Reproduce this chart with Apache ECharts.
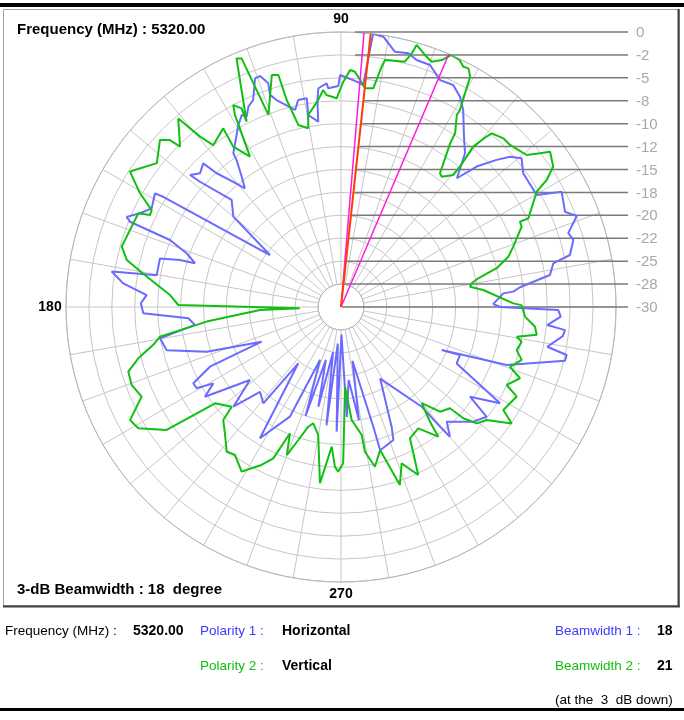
<!DOCTYPE html>
<html><head><meta charset="utf-8">
<script src="https://cdn.jsdelivr.net/npm/echarts/dist/echarts.min.js"></script>
<style>html,body{margin:0;padding:0;background:#fff}#c{width:684px;height:720px}</style>
</head><body><div id="c"></div>
<script>
// ---------- data ----------
const frequencyMHz = '5320.00';
const beamwidth1 = '18';
const beamwidth2 = '21';
const ringValues = [0, -2.5, -5, -7.5, -10, -12.5, -15, -17.5, -20, -22.5, -25, -27.5, -30];
const ringLabels = ['0', '-2', '-5', '-8', '-10', '-12', '-15', '-18', '-20', '-22', '-25', '-28', '-30'];
const angleLabels = ['90', '180', '270'];

// [dB, angle deg]
const horizontal = [
 [-12.65,0.1],[-13.4,1.1],[-12.23,4.8],[-11.13,5.1],[-10.35,6.3],[-6.94,8.7],[-6.36,11.6],[-4.39,12.8],
 [-3.62,16.1],[-3.93,18],[-2.43,21.1],[-3.45,23],[-2.84,27.6],[-5.4,29.8],[-5.34,36.3],[-4.47,39.5],
 [-5.32,41.6],[-6.64,43.4],[-8.7,46],[-11.1,48],[-8.45,51.1],[-7.22,53.9],[-4.7,58.2],[-3.64,60.5],
 [-2.86,63.2],[-2.99,66.4],[-1.87,69.8],[-1.82,73],[-1.36,75.1],[-1.53,78.1],[-0.15,81.1],[0,83.3],
 [-5.66,84.3],[-5.36,86],[-4.69,90.2],[-5.89,90.7],[-6.1,93.3],[-5.56,93.7],[-6.01,95.9],[-7.27,96.5],
 [-9.63,97],[-8.75,99.7],[-6.93,99.3],[-6.94,101.7],[-7.93,103.1],[-6.35,107.3],[-5.6,108.5],[-4.34,108],
 [-3.3,109.3],[-3.35,110.6],[-5.47,113],[-5.92,114.8],[-6.83,116.4],[-6.42,117.3],[-7.2,119.4],[-9.52,125],
 [-10.34,125.4],[-12.13,127.3],[-13.34,129],[-11.98,130.7],[-10.08,132.9],[-8.29,133.8],[-8.8,136.5],[-8.12,138.8],
 [-9.42,138.4],[-13.3,135.6],[-14.67,140],[-20.4,143.8],[-7.18,148.2],[-6.22,148.6],[-6.71,152.5],[-5.8,155],
 [-4.63,157.2],[-5.17,158],[-9.96,158.6],[-12.17,160.8],[-13.37,163.3],[-11.7,163.7],[-9.55,165],[-9.6,170.2],
 [-4.69,171.2],[-6.1,173.8],[-8.76,176.5],[-8.16,178.9],[-8.42,181.8],[-13.3,184.2],[-13.95,187],[-9.96,189.8],
 [-10.41,193.9],[-14.56,198.4],[-20.55,203.6],[-14.29,204.5],[-11.87,207.3],[-11.93,209.4],[-13.77,210.9],[-12.22,213.4],
 [-17.27,218.7],[-13.99,222.8],[-17.21,226.3],[-16.5,231.1],[-22.29,232.8],[-13.17,238.3],[-16.8,245],[-23.8,248.4],
 [-17.5,252],[-24,254],[-18.85,257.2],[-25,260],[-17,263],[-26,265],[-16.4,268],[-27,271],
 [-18,273],[-22,276],[-17.5,279],[-24,282],[-16.5,285.1],[-13.8,285.3],[-14.4,291.5],[-15.8,292.9],
 [-21.1,298.7],[-16,309],[-13.06,309.6],[-11.52,310],[-12.98,312.7],[-10.9,319.1],[-10.1,323],[-12.86,325.2],
 [-9.72,328.8],[-15.96,334],[-16,338],[-18.05,336.9],[-10.85,340.7],[-4.87,346.5],[-4.83,348],[-7.08,349.1],
 [-5.6,352.5],[-5.43,354.1],[-7.41,355],[-6.01,357.5],[-6.29,359.2],[-12.65,360]
];
const vertical = [
 [-10.29,0.6],[-11.2,1.2],[-14.37,6.8],[-15.75,8.9],[-15.51,10.3],[-14.7,11.8],[-12.5,14],[-10.94,16.7],
 [-10.09,19.3],[-8.43,24],[-8.37,25.5],[-7.4,25.3],[-5.22,30.5],[-3.63,31.7],[-2.24,33.5],[-1.59,36.6],
 [-2.57,37.7],[-3.82,39.3],[-4.46,43.8],[-4.46,46.1],[-4.91,49],[-5.55,49.5],[-7.33,50.5],[-9.93,49.7],
 [-11.09,49.6],[-12.03,52.3],[-11.85,53.5],[-8.54,56.3],[-7.33,56.7],[-5.54,58.9],[-4.89,58.9],[-1.92,60.4],
 [-1.2,60.7],[-0.49,61.9],[-0.59,63],[-0.1,64.4],[0,66.4],[-0.9,67.8],[-1.47,69.7],[-1.02,71.6],
 [-0.25,73.9],[-1.27,74.4],[-2.35,75.4],[-2.63,79.9],[-3.41,80.4],[-5.88,81.6],[-6,83.7],[-4.29,86.6],
 [-4.12,87.8],[-5.42,89.4],[-6.33,90.3],[-7.23,91.2],[-6.82,93.9],[-6.25,94.7],[-7.29,96.3],[-8.75,99.7],
 [-10.18,100.4],[-9.6,103.2],[-6.65,104.7],[-3.79,105.1],[-3.59,106.6],[-7.6,110.7],[-0.79,111.8],[-0.58,112.8],
 [-7.32,117],[-5.77,116.6],[-5.03,118.1],[-6.08,118.9],[-10.83,121.2],[-8.93,123.9],[-6.66,123.4],[-7.5,128.3],
 [-5.88,129.6],[-2.83,130.8],[-5.21,135.1],[-3.93,135.7],[-3.13,137.3],[-4.5,142],[-2.65,147.3],[-4.81,150.5],
 [-6.8,152.9],[-6.87,154.3],[-5.64,155.2],[-5.19,164.6],[-6.07,167.6],[-8.54,171.1],[-11.3,176],[-12.25,179.3],
 [-25.5,181.9],[-21.16,182.1],[-15.26,186.2],[-9.99,189.3],[-9.11,191.4],[-7.19,194.2],[-5.75,196.9],[-5.63,200.4],
 [-6.15,204.2],[-3.89,208.2],[-4.23,210.9],[-6.73,215.2],[-12.7,217.4],[-13.86,222.4],[-12.2,223.8],[-11.29,227.4],
 [-9.88,231.7],[-10.14,234.4],[-9.02,238.9],[-9.88,241],[-10.71,243.3],[-11.91,245.9],[-15.14,248],[-12.8,249.9],
 [-14.76,252.2],[-16.46,254.7],[-16.96,256.6],[-15.82,259.9],[-10.63,263.2],[-14.73,266.2],[-12.57,267.8],[-12.03,269],
 [-12.95,270.8],[-21.3,272.9],[-17.62,275.4],[-15.85,279.2],[-14,279.4],[-12.19,282],[-13.83,285.3],[-9.55,288.3],
 [-11.71,291.2],[-9.83,294.7],[-13.82,297.7],[-14.31,302.5],[-12.31,306.9],[-14.16,307.8],[-16.3,310],[-14.28,313.4],
 [-13.77,317.1],[-11.96,317.7],[-10.5,319.4],[-9.88,322.2],[-7.46,325.7],[-9.03,327.6],[-8.48,333],[-10.02,334.8],
 [-8.98,338.3],[-10.45,340.5],[-9.46,343.7],[-10.27,346.2],[-9.93,349.1],[-10.56,350.4],[-8.43,351.9],[-8.73,354.2],
 [-9.9,357],[-10.29,360.6]
];
const peakAngle = 83.8;
const peakLine = [[-30, peakAngle], [2.4, peakAngle]];
const beamEdgeA = [[-30, 85.2], [1.1, 85.2]];
const beamEdgeB = [[-30, 66.9], [1.1, 66.9]];

// ---------- layout ----------
const CX = 341, CY = 307, R = 275, R0 = R / 12;
const FONT = '"Liberation Sans", Arial, sans-serif';

const chart = echarts.init(document.getElementById('c'), null, {renderer: 'canvas'});
function lineSeries(data, color, width, z) {
  return {type: 'line', coordinateSystem: 'polar', polarIndex: 1, data: data, symbol: 'none',
    showSymbol: false, clip: false, animation: false, z: z,
    lineStyle: {color: color, width: width}};
}
chart.setOption({
  backgroundColor: '#ffffff',
  animation: false,
  polar: [{center: [CX, CY], radius: [R0, R]}, {center: [CX, CY], radius: [0, R]}],
  angleAxis: [
    {polarIndex: 0, type: 'value', min: 0, max: 360, interval: 10, startAngle: 0, clockwise: false,
     axisLine: {show: true, lineStyle: {color: '#b8b8b8', width: 1}}, axisTick: {show: false},
     axisLabel: {show: false}, splitLine: {show: true, lineStyle: {color: '#c6c6c6', width: 1}}},
    {polarIndex: 1, type: 'value', min: 0, max: 360, startAngle: 0, clockwise: false, show: false}
  ],
  radiusAxis: [
    {polarIndex: 0, type: 'value', min: -27.5, max: 0, interval: 2.5,
     axisLine: {show: false}, axisTick: {show: false}, axisLabel: {show: false},
     splitLine: {show: true, lineStyle: {color: '#c6c6c6', width: 1}}},
    {polarIndex: 1, type: 'value', min: -30, max: 0, show: false}
  ],
  series: [
    lineSeries(horizontal, '#6b6bff', 2, 3),
    lineSeries(vertical, '#10c010', 2, 4),
    lineSeries(beamEdgeA, '#ff1ad9', 1.5, 5),
    lineSeries(beamEdgeB, '#ff1ad9', 1.5, 5),
    lineSeries(peakLine, '#ff3c00', 2, 6)
  ]
});

// ---------- decorations ----------
function txt(text, x, y, opts) {
  opts = opts || {};
  return {type: 'text', z: 20, silent: true, style: {
    text: text, x: x, y: y, fill: opts.color || '#000',
    font: (opts.bold ? 'bold ' : '') + (opts.size || 12) + 'px ' + FONT,
    align: opts.align || 'left', verticalAlign: 'middle',
    textAlign: opts.align || 'left', textVerticalAlign: 'middle'}};
}
const g = [];
// frame
g.push({type: 'rect', z: 0, silent: true, shape: {x: 0, y: 3, width: 684, height: 4}, style: {fill: '#000'}});
g.push({type: 'rect', z: 0, silent: true, shape: {x: 3.5, y: 9.5, width: 676, height: 596}, style: {fill: 'none', stroke: '#a0a0a0', lineWidth: 1}});
g.push({type: 'line', z: 0, silent: true, shape: {x1: 678.5, y1: 9, x2: 678.5, y2: 607}, style: {stroke: '#404040', lineWidth: 2}});
g.push({type: 'line', z: 0, silent: true, shape: {x1: 3, y1: 606.5, x2: 680, y2: 606.5}, style: {stroke: '#404040', lineWidth: 2}});
g.push({type: 'rect', z: 0, silent: true, shape: {x: 0, y: 708, width: 684, height: 3}, style: {fill: '#000'}});

// ring labels and leaders (leaders start at the peak-direction line)
const tanPeak = Math.tan(peakAngle * Math.PI / 180);
ringValues.forEach(function (v, i) {
  let p = null;
  try { p = chart.convertToPixel({polarIndex: 1}, [v, 90]); } catch (e) { p = null; }
  const y = p ? p[1] : CY - (v + 30) / 30 * R;
  const xs = i < 2 ? CX + 14 : CX + (CY - y) / tanPeak + 1;
  g.push({type: 'line', z: 1, silent: true, shape: {x1: xs, y1: y, x2: 628, y2: y},
          style: {stroke: '#7a7a7a', lineWidth: 1.5}});
  g.push(txt(ringLabels[i], 636, y + 1, {color: '#a8a8a8', size: 15}));
});
// angle labels
g.push(txt(angleLabels[0], CX, 19, {bold: true, size: 14, align: 'center'}));
g.push(txt(angleLabels[1], 50, CY, {bold: true, size: 14, align: 'center'}));
g.push(txt(angleLabels[2], CX, 594, {bold: true, size: 14, align: 'center'}));
// titles
g.push(txt('Frequency (MHz) : ' + frequencyMHz, 17, 30, {bold: true, size: 15}));
g.push(txt('3-dB Beamwidth : ' + beamwidth1 + '  degree', 17, 590, {bold: true, size: 15}));
// bottom panel
const NS = 13.5, BS = 14;
g.push(txt('Frequency (MHz) :', 5, 631, {size: NS}));
g.push(txt(frequencyMHz, 133, 631, {size: BS, bold: true}));
g.push(txt('Polarity 1 :', 200, 631, {size: NS, color: '#3c3cff'}));
g.push(txt('Horizontal', 282, 631, {size: BS, bold: true}));
g.push(txt('Beamwidth 1 :', 555, 631, {size: NS, color: '#3c3cff'}));
g.push(txt(beamwidth1, 657, 631, {size: BS, bold: true}));
g.push(txt('Polarity 2 :', 200, 666, {size: NS, color: '#10c010'}));
g.push(txt('Vertical', 282, 666, {size: BS, bold: true}));
g.push(txt('Beamwidth 2 :', 555, 666, {size: NS, color: '#10c010'}));
g.push(txt(beamwidth2, 657, 666, {size: BS, bold: true}));
g.push(txt('(at the  3  dB down)', 555, 700, {size: NS}));

chart.setOption({graphic: {elements: g}});
</script>
</body></html>
